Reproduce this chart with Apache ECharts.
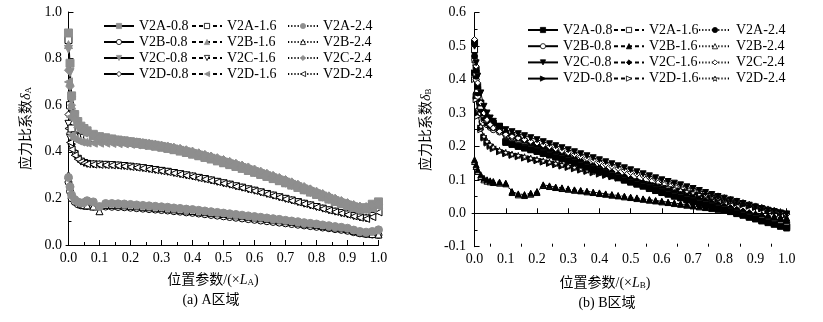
<!DOCTYPE html>
<html>
<head>
<meta charset="utf-8">
<script src="https://cdn.jsdelivr.net/npm/echarts@6/dist/echarts.min.js"></script>
<style>
html, body { margin: 0; padding: 0; background: #fff; }
#chartA { position: absolute; left: 0; top: 0; width: 411px; height: 322px; }
#chartB { position: absolute; left: 411px; top: 0; width: 412px; height: 322px; }
</style>
</head>
<body>
<div id="chartA"></div>
<div id="chartB"></div>
<script>
// 位置参数（×L）
const positions = [0, 0.005, 0.01, 0.02, 0.03, 0.04, 0.05, 0.06, 0.08, 0.1,
  0.12, 0.14, 0.16, 0.18, 0.2, 0.22, 0.24, 0.26, 0.28, 0.3,
  0.32, 0.34, 0.36, 0.38, 0.4, 0.42, 0.44, 0.46, 0.48, 0.5,
  0.52, 0.54, 0.56, 0.58, 0.6, 0.62, 0.64, 0.66, 0.68, 0.7,
  0.72, 0.74, 0.76, 0.78, 0.8, 0.82, 0.84, 0.86, 0.88, 0.9,
  0.92, 0.94, 0.96, 0.98, 1.0];
const xTicks = [0, 0.1, 0.2, 0.3, 0.4, 0.5, 0.6, 0.7, 0.8, 0.9, 1.0];
const xMinorTicks = [0.05, 0.15, 0.25, 0.35, 0.45, 0.55, 0.65, 0.75, 0.85, 0.95];
const legendCols = [
  ['V2A-0.8', 'V2B-0.8', 'V2C-0.8', 'V2D-0.8'],
  ['V2A-1.6', 'V2B-1.6', 'V2C-1.6', 'V2D-1.6'],
  ['V2A-2.4', 'V2B-2.4', 'V2C-2.4', 'V2D-2.4']
];

// ---- (a) A区域 ----
const aV2A08 = [0.91,0.78,0.64,0.56,0.53,0.51,0.50,0.49,0.475,0.465,
  0.46,0.455,0.45,0.447,0.443,0.44,0.436,0.432,0.428,0.423,
  0.418,0.412,0.406,0.40,0.393,0.386,0.379,0.372,0.364,0.356,
  0.348,0.34,0.332,0.323,0.315,0.306,0.297,0.288,0.279,0.27,
  0.26,0.25,0.24,0.23,0.22,0.21,0.20,0.19,0.18,0.172,
  0.164,0.158,0.16,0.175,0.185];
const aV2A16 = [0.88,0.60,0.50,0.47,0.465,0.462,0.46,0.46,0.46,0.458,
  0.455,0.45,0.446,0.443,0.44,0.437,0.433,0.429,0.425,0.42,
  0.415,0.41,0.404,0.398,0.391,0.384,0.377,0.37,0.362,0.354,
  0.346,0.338,0.33,0.321,0.313,0.304,0.295,0.286,0.277,0.268,
  0.258,0.248,0.238,0.228,0.218,0.208,0.198,0.188,0.178,0.17,
  0.162,0.156,0.158,0.17,0.18];
const aV2B16 = [0.86,0.70,0.60,0.55,0.52,0.505,0.495,0.485,0.47,0.46,
  0.455,0.45,0.446,0.443,0.44,0.436,0.432,0.428,0.424,0.42,
  0.415,0.409,0.403,0.397,0.39,0.383,0.376,0.369,0.361,0.353,
  0.345,0.337,0.329,0.32,0.312,0.303,0.294,0.285,0.276,0.267,
  0.257,0.247,0.237,0.227,0.217,0.207,0.197,0.187,0.177,0.169,
  0.161,0.155,0.155,0.165,0.175];
const aV2C08 = [0.84,0.74,0.62,0.55,0.52,0.50,0.49,0.48,0.47,0.462,
  0.458,0.453,0.449,0.445,0.441,0.437,0.433,0.429,0.425,0.42,
  0.415,0.409,0.403,0.397,0.39,0.383,0.376,0.369,0.361,0.353,
  0.345,0.337,0.328,0.32,0.311,0.302,0.293,0.284,0.275,0.265,
  0.255,0.245,0.235,0.225,0.215,0.205,0.195,0.186,0.177,0.168,
  0.16,0.153,0.152,0.16,0.17];
const aV2C24 = [0.75,0.68,0.60,0.54,0.515,0.50,0.49,0.482,0.472,0.465,
  0.46,0.456,0.452,0.449,0.446,0.443,0.44,0.437,0.433,0.429,
  0.425,0.42,0.415,0.409,0.403,0.396,0.389,0.382,0.375,0.367,
  0.359,0.351,0.343,0.335,0.326,0.317,0.308,0.299,0.29,0.281,
  0.271,0.261,0.251,0.241,0.231,0.221,0.211,0.201,0.191,0.182,
  0.174,0.167,0.165,0.17,0.175];
const aV2D16 = [0.70,0.55,0.47,0.455,0.447,0.442,0.44,0.438,0.437,0.437,
  0.437,0.436,0.435,0.434,0.432,0.43,0.427,0.424,0.42,0.416,
  0.411,0.406,0.4,0.394,0.388,0.381,0.374,0.367,0.359,0.351,
  0.343,0.335,0.327,0.318,0.31,0.301,0.292,0.283,0.274,0.264,
  0.254,0.244,0.234,0.224,0.214,0.204,0.194,0.185,0.176,0.167,
  0.159,0.152,0.15,0.155,0.165];
const aV2D08 = [0.56,0.48,0.43,0.40,0.375,0.362,0.355,0.35,0.348,0.347,
  0.346,0.345,0.343,0.341,0.338,0.335,0.332,0.328,0.324,0.32,
  0.316,0.311,0.306,0.301,0.296,0.29,0.285,0.279,0.273,0.267,
  0.261,0.254,0.248,0.241,0.235,0.228,0.221,0.214,0.207,0.2,
  0.193,0.186,0.179,0.172,0.165,0.158,0.151,0.145,0.139,0.133,
  0.126,0.12,0.117,0.13,0.155];
const aV2C16 = [0.52,0.46,0.42,0.39,0.37,0.358,0.352,0.348,0.346,0.345,
  0.344,0.343,0.341,0.339,0.336,0.333,0.33,0.326,0.322,0.318,
  0.314,0.309,0.304,0.299,0.294,0.288,0.283,0.277,0.271,0.265,
  0.259,0.252,0.246,0.239,0.233,0.226,0.219,0.212,0.205,0.198,
  0.191,0.184,0.177,0.17,0.163,0.156,0.149,0.143,0.137,0.131,
  0.124,0.118,0.114,0.125,0.145];
const aV2D24 = [0.50,0.44,0.41,0.385,0.368,0.357,0.351,0.347,0.345,0.344,
  0.343,0.342,0.34,0.338,0.335,0.332,0.329,0.325,0.321,0.317,
  0.313,0.308,0.303,0.298,0.293,0.287,0.282,0.276,0.27,0.264,
  0.258,0.251,0.245,0.238,0.232,0.225,0.218,0.211,0.204,0.197,
  0.19,0.183,0.176,0.169,0.162,0.155,0.148,0.142,0.136,0.13,
  0.123,0.117,0.112,0.12,0.14];
const aV2A24 = [0.29,0.25,0.215,0.195,0.185,0.18,0.182,0.19,0.185,0.165,
  0.178,0.178,0.177,0.176,0.174,0.172,0.17,0.168,0.166,0.164,
  0.162,0.159,0.157,0.154,0.152,0.149,0.146,0.143,0.14,0.137,
  0.134,0.131,0.128,0.125,0.122,0.119,0.116,0.113,0.11,0.106,
  0.103,0.1,0.096,0.093,0.09,0.086,0.083,0.079,0.076,0.072,
  0.064,0.058,0.055,0.058,0.065];
const aV2B08 = [0.27,0.23,0.2,0.185,0.175,0.17,0.168,0.167,0.165,0.162,
  0.165,0.164,0.163,0.162,0.16,0.158,0.156,0.154,0.152,0.15,
  0.148,0.145,0.143,0.14,0.138,0.135,0.132,0.129,0.126,0.123,
  0.12,0.117,0.114,0.111,0.108,0.105,0.102,0.099,0.096,0.093,
  0.09,0.087,0.084,0.081,0.078,0.075,0.072,0.068,0.065,0.061,
  0.055,0.05,0.047,0.045,0.043];
const aV2B24 = [0.30,0.26,0.22,0.20,0.185,0.175,0.172,0.17,0.165,0.145,
  0.172,0.172,0.171,0.17,0.168,0.166,0.164,0.162,0.16,0.158,
  0.156,0.153,0.151,0.148,0.146,0.143,0.141,0.138,0.136,0.133,
  0.13,0.127,0.124,0.121,0.118,0.115,0.112,0.109,0.106,0.102,
  0.099,0.096,0.092,0.089,0.086,0.082,0.079,0.075,0.072,0.068,
  0.06,0.054,0.05,0.047,0.045];

// ---- (b) B区域 ----
const bV2C08 = [0.50,0.45,0.41,0.36,0.32,0.30,0.285,0.275,0.26,0.25,
  0.244,0.238,0.232,0.226,0.22,0.214,0.208,0.202,0.196,0.19,
  0.184,0.178,0.172,0.166,0.16,0.154,0.148,0.142,0.136,0.13,
  0.124,0.118,0.112,0.106,0.1,0.095,0.09,0.085,0.079,0.074,
  0.068,0.062,0.056,0.05,0.045,0.04,0.035,0.029,0.024,0.019,
  0.014,0.009,0.005,0.001,-0.002];
const bV2C24 = [0.52,0.44,0.39,0.33,0.30,0.28,0.265,0.255,0.245,0.236,
  0.23,0.225,0.22,0.215,0.21,0.204,0.199,0.193,0.187,0.181,
  0.176,0.17,0.164,0.158,0.152,0.146,0.14,0.134,0.128,0.122,
  0.117,0.112,0.107,0.102,0.097,0.092,0.087,0.082,0.077,0.072,
  0.067,0.062,0.057,0.052,0.047,0.042,0.037,0.032,0.027,0.022,
  0.017,0.012,0.007,0.002,-0.003];
const bV2A08 = [0.51,0.43,0.38,0.33,0.30,0.285,0.275,0.27,0.26,0.212,
  0.206,0.2,0.195,0.19,0.185,0.179,0.174,0.168,0.163,0.157,
  0.151,0.144,0.138,0.131,0.125,0.119,0.112,0.106,0.099,0.093,
  0.087,0.081,0.074,0.068,0.062,0.057,0.051,0.046,0.04,0.035,
  0.03,0.025,0.02,0.015,0.01,0.005,-0.001,-0.006,-0.012,-0.017,
  -0.023,-0.028,-0.033,-0.039,-0.044];
const bV2A16 = [0.49,0.42,0.37,0.32,0.295,0.28,0.27,0.265,0.255,0.215,
  0.208,0.202,0.197,0.192,0.187,0.181,0.176,0.17,0.165,0.159,
  0.153,0.146,0.14,0.133,0.127,0.121,0.114,0.108,0.101,0.095,
  0.089,0.083,0.076,0.07,0.064,0.059,0.053,0.048,0.042,0.037,
  0.032,0.027,0.022,0.017,0.012,0.007,0.001,-0.004,-0.01,-0.015,
  -0.02,-0.025,-0.03,-0.035,-0.04];
const bV2A24 = [0.47,0.41,0.36,0.31,0.285,0.27,0.262,0.256,0.248,0.24,
  0.232,0.225,0.218,0.21,0.203,0.196,0.189,0.182,0.175,0.168,
  0.161,0.154,0.147,0.14,0.133,0.126,0.12,0.113,0.107,0.1,
  0.094,0.088,0.082,0.076,0.07,0.064,0.058,0.053,0.048,0.043,
  0.038,0.033,0.028,0.023,0.018,0.013,0.008,0.003,-0.002,-0.007,
  -0.012,-0.017,-0.022,-0.027,-0.032];
const bV2C16 = [0.48,0.42,0.37,0.32,0.29,0.275,0.265,0.258,0.25,0.242,
  0.235,0.228,0.221,0.214,0.207,0.2,0.193,0.186,0.179,0.172,
  0.165,0.158,0.151,0.144,0.137,0.13,0.124,0.117,0.111,0.104,
  0.098,0.092,0.086,0.08,0.074,0.068,0.062,0.057,0.052,0.047,
  0.042,0.037,0.032,0.027,0.022,0.017,0.012,0.007,0.002,-0.003,
  -0.008,-0.013,-0.018,-0.023,-0.028];
const bV2B08 = [0.46,0.40,0.35,0.30,0.28,0.265,0.257,0.25,0.243,0.235,
  0.228,0.221,0.214,0.207,0.2,0.193,0.186,0.179,0.172,0.165,
  0.158,0.151,0.144,0.137,0.13,0.124,0.117,0.111,0.104,0.098,
  0.092,0.086,0.08,0.074,0.068,0.062,0.057,0.052,0.047,0.042,
  0.037,0.032,0.027,0.022,0.017,0.012,0.007,0.002,-0.003,-0.008,
  -0.013,-0.018,-0.023,-0.028,-0.033];
const bV2D24 = [0.45,0.36,0.31,0.26,0.23,0.215,0.205,0.198,0.188,0.182,
  0.177,0.173,0.169,0.165,0.161,0.157,0.153,0.149,0.145,0.141,
  0.137,0.133,0.129,0.125,0.121,0.117,0.113,0.109,0.105,0.101,
  0.097,0.093,0.089,0.085,0.081,0.077,0.073,0.069,0.065,0.061,
  0.057,0.053,0.049,0.045,0.041,0.037,0.033,0.029,0.025,0.021,
  0.017,0.013,0.009,0.005,0.001];
const bV2D08 = [0.42,0.35,0.3,0.255,0.228,0.213,0.203,0.196,0.186,0.18,
  0.175,0.171,0.167,0.163,0.159,0.155,0.151,0.147,0.143,0.139,
  0.135,0.131,0.127,0.123,0.119,0.115,0.111,0.107,0.103,0.099,
  0.095,0.091,0.087,0.083,0.079,0.075,0.071,0.067,0.063,0.059,
  0.055,0.051,0.047,0.043,0.039,0.035,0.031,0.027,0.023,0.019,
  0.015,0.011,0.007,0.003,-0.001];
const bV2D16 = [0.40,0.34,0.29,0.25,0.225,0.21,0.2,0.193,0.184,0.178,
  0.173,0.169,0.165,0.161,0.157,0.153,0.149,0.145,0.141,0.137,
  0.133,0.129,0.125,0.121,0.117,0.113,0.109,0.105,0.101,0.097,
  0.093,0.089,0.085,0.081,0.077,0.073,0.069,0.065,0.061,0.057,
  0.053,0.049,0.045,0.041,0.037,0.033,0.029,0.025,0.021,0.017,
  0.013,0.009,0.005,0.001,-0.003];
const bV2B16 = [0.16,0.145,0.13,0.115,0.105,0.1,0.097,0.095,0.093,0.09,
  0.065,0.058,0.056,0.06,0.065,0.085,0.082,0.078,0.076,0.073,
  0.07,0.068,0.066,0.063,0.061,0.058,0.056,0.053,0.051,0.048,
  0.046,0.043,0.041,0.038,0.036,0.033,0.031,0.028,0.026,0.023,
  0.021,0.018,0.016,0.013,0.011,0.008,0.006,0.003,0.001,-0.002,
  -0.004,-0.007,-0.009,-0.012,-0.014];
const bV2B24 = [0.155,0.14,0.125,0.11,0.1,0.096,0.094,0.092,0.09,0.088,
  0.062,0.055,0.053,0.057,0.062,0.083,0.08,0.077,0.074,0.072,
  0.069,0.067,0.064,0.062,0.059,0.057,0.054,0.052,0.049,0.047,
  0.044,0.042,0.039,0.037,0.034,0.032,0.029,0.027,0.024,0.022,
  0.019,0.017,0.014,0.012,0.009,0.007,0.004,0.002,-0.001,-0.003,
  -0.006,-0.008,-0.011,-0.013,-0.016];

const SERIF = "'Liberation Serif', 'Noto Sans CJK SC', serif";
const GRAY = '#8e8e8e';
const STAR = 'path://M0,-10L2.35,-3.24L9.51,-3.09L3.8,1.24L5.88,8.09L0,4L-5.88,8.09L-3.8,1.24L-9.51,-3.09L-2.35,-3.24Z';
const lineTypes = { solid: 'solid', dash: [4, 3], dot: [1.2, 2] };

// 每条线的样式: 名称, 数据, 符号, 旋转, 填充, 描边, 线型, 大小
function makeSeries(name, values, symbol, rotate, fill, stroke, line, size) {
  return {
    name: name,
    type: 'line',
    data: positions.map((x, i) => [x, values[i]]),
    symbol: symbol,
    symbolRotate: rotate,
    symbolSize: size || 7,
    lineStyle: { color: '#000', width: 1, type: lineTypes[line] },
    itemStyle: { color: fill, borderColor: stroke, borderWidth: 1 },
    emphasis: { disabled: true }
  };
}

function buildOption(cfg) {
  const legends = legendCols.map((col, i) => ({
    orient: 'vertical',
    left: cfg.legendLeft[i],
    top: cfg.legendTop,
    padding: 0,
    itemWidth: cfg.legendWidth[i],
    itemHeight: 6.5,
    itemGap: cfg.legendGap,
    selectedMode: false,
    data: col,
    itemStyle: { borderWidth: 0.8 },
    textStyle: { fontFamily: SERIF, fontSize: 14, color: '#000', lineHeight: 14 }
  }));
  return {
    animation: false,
    backgroundColor: '#fff',
    grid: cfg.grid,
    legend: legends,
    xAxis: [{
      type: 'value',
      min: -0.008,
      max: 1.0,
      axisLine: { lineStyle: { color: '#000', width: 1 } },
      axisTick: { inside: true, length: 5, customValues: xTicks, lineStyle: { color: '#000' } },
      axisLabel: { customValues: xTicks, margin: 6, color: '#000', fontFamily: SERIF, fontSize: 14,
        formatter: v => v.toFixed(1) },
      splitLine: { show: false }
    }, {
      type: 'value',
      position: 'bottom',
      min: -0.008,
      max: 1.0,
      axisLine: { show: false },
      axisTick: { inside: true, length: 3, customValues: xMinorTicks, lineStyle: { color: '#000' } },
      axisLabel: { show: false },
      splitLine: { show: false }
    }],
    yAxis: {
      type: 'value',
      min: cfg.yMin,
      max: cfg.yMax,
      interval: cfg.yInterval,
      axisLine: { show: true, lineStyle: { color: '#000', width: 1 } },
      axisTick: { show: true, inside: true, length: 5, lineStyle: { color: '#000' } },
      minorTick: { show: true, splitNumber: 2, length: 3, lineStyle: { color: '#000' } },
      axisLabel: { margin: cfg.yLabelMargin, color: '#000', fontFamily: SERIF, fontSize: 14,
        formatter: v => v.toFixed(1) },
      splitLine: { show: false },
      name: cfg.yName,
      nameLocation: 'middle',
      nameGap: cfg.yNameGap,
      nameTextStyle: {
        fontFamily: SERIF, fontSize: 14, color: '#000',
        rich: {
          d: { fontFamily: SERIF, fontStyle: 'italic', fontSize: 14, color: '#000' },
          s: { fontFamily: SERIF, fontSize: 9, color: '#000', verticalAlign: 'bottom', padding: [5, 0, 0, 0] }
        }
      }
    },
    graphic: [{
      type: 'text',
      x: cfg.xNamePos[0],
      y: cfg.xNamePos[1],
      style: {
        text: cfg.xName,
        fill: '#000',
        font: "14px 'Liberation Serif', 'Noto Sans CJK SC', serif",
        align: 'center',
        verticalAlign: 'middle',
        rich: {
          i: { fontFamily: SERIF, fontStyle: 'italic', fontSize: 14, fill: '#000' },
          s: { fontFamily: SERIF, fontSize: 9, fill: '#000', verticalAlign: 'bottom', padding: [6, 0, 0, 0] }
        }
      }
    }, {
      type: 'text',
      x: cfg.captionPos[0],
      y: cfg.captionPos[1],
      style: {
        text: cfg.caption,
        fill: '#000',
        font: "14px 'Liberation Serif', 'Noto Sans CJK SC', serif",
        align: 'center',
        verticalAlign: 'middle'
      }
    }],
    series: cfg.series
  };
}

const chartA = echarts.init(document.getElementById('chartA'), null, { renderer: 'canvas' });
chartA.setOption(buildOption({
  grid: { left: 66, right: 32.5, top: 12, bottom: 77 },
  yMin: 0, yMax: 1.0, yInterval: 0.2, yLabelMargin: 4,
  yName: '应力比系数{d|δ}{s|A}', yNameGap: 33,
  xName: '位置参数/(×{i|L}{s|A})', xNamePos: [213, 280],
  caption: '(a) A区域', captionPos: [211, 300],
  legendLeft: [103, 191, 287], legendWidth: [30, 30, 30], legendTop: 19, legendGap: 2,
  series: [
    makeSeries('V2B-0.8', aV2B08, 'circle', 0, '#fff', '#000', 'solid', 7),
    makeSeries('V2B-2.4', aV2B24, 'triangle', 0, '#fff', '#000', 'dot', 7),
    makeSeries('V2A-2.4', aV2A24, 'circle', 0, GRAY, GRAY, 'dot', 8),
    makeSeries('V2D-0.8', aV2D08, 'diamond', 0, '#fff', '#000', 'solid', 7),
    makeSeries('V2C-1.6', aV2C16, 'triangle', 180, '#fff', '#000', 'dash', 7),
    makeSeries('V2D-2.4', aV2D24, 'triangle', 90, '#fff', '#000', 'dot', 7),
    makeSeries('V2A-1.6', aV2A16, 'rect', 0, '#fff', '#000', 'dash', 7),
    makeSeries('V2D-1.6', aV2D16, 'triangle', 90, GRAY, GRAY, 'dash', 8),
    makeSeries('V2C-0.8', aV2C08, 'triangle', 180, GRAY, GRAY, 'solid', 8),
    makeSeries('V2B-1.6', aV2B16, 'triangle', 0, GRAY, GRAY, 'dash', 8),
    makeSeries('V2A-0.8', aV2A08, 'rect', 0, GRAY, GRAY, 'solid', 8),
    makeSeries('V2C-2.4', aV2C24, 'diamond', 0, GRAY, GRAY, 'dot', 8)
  ]
}));

const chartB = echarts.init(document.getElementById('chartB'), null, { renderer: 'canvas' });
chartB.setOption(buildOption({
  grid: { left: 58.2, right: 36.3, top: 12.7, bottom: 75.3 },
  yMin: -0.1, yMax: 0.6, yInterval: 0.1, yLabelMargin: 6,
  yName: '应力比系数{d|δ}{s|B}', yNameGap: 38,
  xName: '位置参数/(×{i|L}{s|B})', xNamePos: [194, 283],
  caption: '(b) B区域', captionPos: [196, 303],
  legendLeft: [116, 202, 287], legendWidth: [30, 30, 32], legendTop: 23, legendGap: 2.2,
  series: [
    makeSeries('V2B-2.4', bV2B24, 'triangle', 0, '#fff', '#000', 'dot', 6),
    makeSeries('V2B-1.6', bV2B16, 'triangle', 0, '#000', '#000', 'dash', 6),
    makeSeries('V2D-1.6', bV2D16, 'triangle', -90, '#fff', '#000', 'dash', 6),
    makeSeries('V2D-0.8', bV2D08, 'triangle', -90, '#000', '#000', 'solid', 6),
    makeSeries('V2D-2.4', bV2D24, STAR, 0, '#fff', '#000', 'dot', 6),
    makeSeries('V2B-0.8', bV2B08, 'circle', 0, '#fff', '#000', 'solid', 6),
    makeSeries('V2C-1.6', bV2C16, 'diamond', 0, '#000', '#000', 'dash', 6),
    makeSeries('V2A-2.4', bV2A24, 'circle', 0, '#000', '#000', 'dot', 6),
    makeSeries('V2A-1.6', bV2A16, 'rect', 0, '#fff', '#000', 'dash', 6),
    makeSeries('V2A-0.8', bV2A08, 'rect', 0, '#000', '#000', 'solid', 6),
    makeSeries('V2C-2.4', bV2C24, 'diamond', 0, '#fff', '#000', 'dot', 6),
    makeSeries('V2C-0.8', bV2C08, 'triangle', 180, '#000', '#000', 'solid', 6)
  ]
}));
</script>
</body>
</html>
